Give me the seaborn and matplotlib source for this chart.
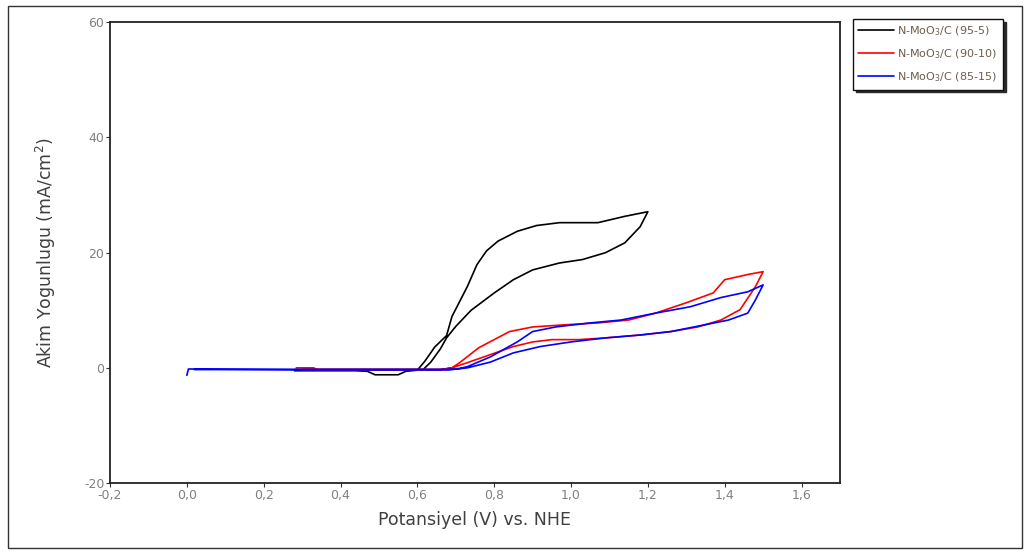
import matplotlib
matplotlib.use("Agg")
import matplotlib.pyplot as plt
from matplotlib.patches import Rectangle
from matplotlib.lines import Line2D
from matplotlib.ticker import FuncFormatter
import seaborn as sns
import pandas as pd

# Cyclic voltammograms, potential (V vs. NHE) and current density (mA/cm2)
e_95_5 = [0.28, 0.40, 0.50, 0.60, 0.615, 0.635, 0.66, 0.676, 0.70, 0.74, 0.80, 0.85,
          0.90, 0.97, 1.03, 1.09, 1.14, 1.18, 1.20,
          1.14, 1.07, 0.97, 0.91, 0.86, 0.81, 0.78, 0.755, 0.73, 0.69, 0.676, 0.645,
          0.62, 0.60, 0.57, 0.55, 0.49, 0.47, 0.44, 0.28]
j_95_5 = [-0.3, -0.3, -0.3, -0.3, -0.3, 1.0, 3.3, 5.2, 7.2, 10.0, 13.0, 15.3,
          17.0, 18.2, 18.8, 20.0, 21.7, 24.5, 27.1,
          26.3, 25.2, 25.2, 24.7, 23.7, 22.0, 20.3, 17.9, 14.1, 8.9, 5.6, 3.6,
          1.2, -0.4, -0.6, -1.2, -1.2, -0.6, -0.5, -0.5]

e_90_10 = [0.285, 0.33, 0.34, 0.50, 0.66, 0.69, 0.71, 0.76, 0.80, 0.84, 0.90, 0.99,
           1.07, 1.15, 1.22, 1.30, 1.37, 1.40, 1.46, 1.50,
           1.48, 1.44, 1.39, 1.33, 1.26, 1.18, 1.09, 1.02, 0.95, 0.90, 0.85, 0.79,
           0.73, 0.69, 0.66, 0.40, 0.30]
j_90_10 = [0.0, 0.0, -0.3, -0.3, -0.3, 0.0, 0.9, 3.5, 4.9, 6.3, 7.1, 7.5,
           7.8, 8.3, 9.5, 11.3, 13.0, 15.3, 16.2, 16.7,
           14.1, 10.1, 8.3, 7.1, 6.3, 5.7, 5.2, 4.9, 4.9, 4.5, 3.7, 2.3,
           0.9, 0.0, -0.3, -0.3, -0.3]

e_85_15 = [0.0, 0.004, 0.30, 0.68, 0.71, 0.73, 0.79, 0.86, 0.90, 0.96, 1.05, 1.13,
           1.22, 1.31, 1.39, 1.46, 1.50,
           1.48, 1.46, 1.41, 1.35, 1.26, 1.18, 1.09, 1.00, 0.92, 0.85, 0.79,
           0.73, 0.69, 0.30, 0.02]
j_85_15 = [-1.3, -0.2, -0.3, -0.3, -0.1, 0.2, 1.9, 4.5, 6.3, 7.1, 7.8, 8.3,
           9.5, 10.6, 12.2, 13.2, 14.4,
           11.8, 9.5, 8.3, 7.5, 6.3, 5.7, 5.2, 4.5, 3.7, 2.6, 1.0,
           0.0, -0.3, -0.3, -0.3]

labels = ["N-MoO$_3$/C (95-5)", "N-MoO$_3$/C (90-10)", "N-MoO$_3$/C (85-15)"]
colors = ["#000000", "#ff0000", "#0000ff"]
x_ticks = [-0.2, 0.0, 0.2, 0.4, 0.6, 0.8, 1.0, 1.2, 1.4, 1.6]
y_ticks = [-20, 0, 20, 40, 60]

frames = []
for lab, e, j in zip(labels, [e_95_5, e_90_10, e_85_15], [j_95_5, j_90_10, j_85_15]):
    frames.append(pd.DataFrame({"E": e, "j": j, "sample": lab}))
df = pd.concat(frames, ignore_index=True)

sns.set_style("white")
plt.rcParams["font.family"] = ["DejaVu Sans"]
plt.rcParams["axes.unicode_minus"] = False
plt.rcParams["mathtext.fontset"] = "dejavusans"

fig = plt.figure(figsize=(10.3, 5.54), dpi=100)
ax = fig.add_axes([0.1068, 0.128, 0.7087, 0.832])

# each curve drawn as one connected path in scan order
for lab, col in zip(labels, colors):
    sub = df[df["sample"] == lab]
    sns.lineplot(data=sub, x="E", y="j", sort=False, estimator=None, color=col,
                 linewidth=1.2, ax=ax, legend=False)

ax.set_xlim(-0.2, 1.7)
ax.set_ylim(-20, 60)
ax.set_xticks(x_ticks)
ax.set_yticks(y_ticks)
ax.xaxis.set_major_formatter(FuncFormatter(lambda v, p: f"{v:.1f}".replace(".", ",")))
ax.tick_params(axis="both", which="major", direction="out", length=3, width=0.8,
               color="#333333", labelsize=9, labelcolor="#808080", pad=1,
               bottom=True, left=True)
for s in ax.spines.values():
    s.set_color("#222222")
    s.set_linewidth(1.3)

ax.set_xlabel("Potansiyel (V) vs. NHE", fontsize=12.5, color="#404040", labelpad=7)
ax.set_ylabel("Akim Yogunlugu (mA/cm$^2$)", fontsize=12.5, color="#404040", labelpad=19)

handles = [Line2D([], [], color=c, linewidth=1.2) for c in colors]
leg = fig.legend(handles, labels, loc="upper left", bbox_to_anchor=(0.828, 0.966),
                 fontsize=8, frameon=True, fancybox=False,
                 shadow={"color": "#2a2a2a", "alpha": 1.0},
                 handlelength=3.2, handletextpad=0.3, labelspacing=0.85,
                 borderpad=0.5, borderaxespad=0)
leg.get_frame().set_edgecolor("#111111")
leg.get_frame().set_linewidth(1.0)
for t in leg.get_texts():
    t.set_color("#6b5e4e")

# outer border around the whole figure
fig.patches.append(Rectangle((0.008, 0.01), 0.984, 0.98, transform=fig.transFigure,
                             fill=False, edgecolor="#333333", linewidth=1.0))

fig.savefig("out.png", dpi=100)
